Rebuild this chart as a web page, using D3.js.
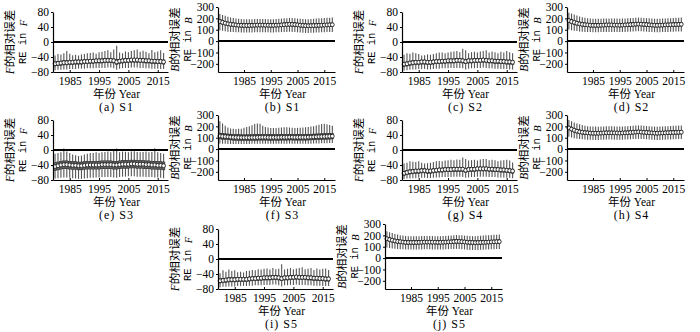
<!DOCTYPE html>
<html>
<head>
<meta charset="utf-8">
<title>RE boxplots</title>
<style>
  body { margin: 0; background: #fff; }
  text { font-family: "Liberation Serif", "Noto Sans CJK SC", serif; fill: #000; }
</style>
</head>
<body>
<script src="https://d3js.org/d3.v7.min.js"></script>
<script>
// categories and tick labels
var yearsF = d3.range(1980, 2018);   // F panels: 1980-2017
var yearsB = d3.range(1976, 2019);   // B panels: 1976-2018
var xTicks = [1985, 1995, 2005, 2015];
var fTicks = [80, 40, 0, -40, -80];
var bTicks = [300, 200, 100, 0, -100, -200];

// (a) S1, F
var a_med = [-58,-57,-56,-55,-55,-54,-54,-53,-53,-53,-52,-52,-51,-51,-50,-50,-50,-49,-49,-49,-50,-53,-51,-50,-49,-49,-48,-48,-48,-49,-49,-50,-50,-51,-51,-52,-52,-53];
var a_q1 = [-64,-63,-62,-61,-61,-60,-60,-59,-59,-59,-58,-58,-57,-57,-56,-56,-56,-55,-55,-55,-56,-60,-57,-56,-55,-55,-54,-54,-54,-55,-55,-56,-56,-57,-57,-58,-58,-59];
var a_q3 = [-53,-52,-51,-50,-50,-49,-49,-48,-48,-48,-47,-47,-46,-46,-45,-45,-45,-44,-44,-44,-45,-47,-46,-45,-44,-44,-43,-43,-43,-44,-44,-45,-45,-46,-46,-47,-47,-48];
var a_hi = [-36,-32,-33,-30,-24,-31,-35,-34,-36,-33,-32,-30,-29,-28,-31,-27,-26,-24,-22,-27,-20,-10,-28,-30,-25,-27,-24,-22,-20,-26,-23,-26,-30,-21,-27,-25,-22,-29];
var a_lo = [-75,-74,-74,-73,-73,-72,-72,-72,-71,-71,-71,-70,-70,-70,-69,-69,-69,-69,-68,-68,-70,-74,-71,-70,-69,-69,-68,-68,-68,-69,-69,-70,-70,-71,-71,-71,-72,-72];

// (b) S1, B
var b_med = [172,165,158,152,148,145,142,140,139,138,138,138,139,140,141,141,141,140,140,139,139,140,141,142,144,146,148,147,145,143,140,138,136,135,136,137,138,139,140,141,142,143,144];
var b_q1 = [156,149,142,136,132,129,126,124,123,122,122,122,123,124,125,125,125,124,124,123,123,124,125,126,128,130,132,131,129,127,124,122,120,119,120,121,122,123,124,125,126,127,128];
var b_q3 = [188,181,174,168,164,161,158,156,155,154,154,154,155,156,157,157,157,156,156,155,155,156,157,158,160,162,164,163,161,159,156,154,152,151,152,153,154,155,156,157,158,159,160];
var b_hi = [238,230,222,215,208,203,199,196,194,193,193,192,193,194,195,195,195,194,193,193,193,194,196,198,200,202,204,203,201,198,196,194,192,192,194,196,198,200,202,204,205,206,207];
var b_lo = [95,90,86,83,81,79,78,77,76,76,76,76,76,77,78,78,78,77,77,76,76,77,78,79,80,81,82,81,79,77,75,73,72,72,73,74,75,76,77,78,79,80,80];

// (c) S2, F
var c_med = [-59,-58,-56,-55,-54,-54,-53,-53,-54,-54,-53,-52,-52,-51,-51,-50,-50,-50,-49,-49,-50,-52,-50,-50,-49,-49,-49,-48,-49,-50,-50,-51,-51,-52,-52,-53,-53,-54];
var c_q1 = [-65,-64,-62,-61,-60,-60,-59,-59,-60,-60,-59,-58,-58,-57,-57,-56,-56,-56,-55,-55,-56,-58,-56,-56,-55,-55,-55,-54,-55,-56,-56,-57,-57,-58,-58,-59,-59,-60];
var c_q3 = [-54,-53,-51,-50,-49,-49,-48,-48,-49,-49,-48,-47,-47,-46,-46,-45,-45,-45,-44,-44,-45,-47,-45,-45,-44,-44,-44,-43,-44,-45,-45,-46,-46,-47,-47,-48,-48,-49];
var c_hi = [-34,-30,-31,-28,-30,-32,-36,-35,-33,-34,-32,-30,-28,-28,-30,-28,-26,-25,-24,-27,-18,-22,-30,-27,-26,-28,-25,-24,-22,-28,-25,-27,-30,-26,-28,-24,-27,-30];
var c_lo = [-76,-75,-74,-73,-73,-72,-72,-72,-73,-73,-72,-71,-71,-70,-70,-70,-69,-69,-69,-69,-70,-73,-71,-70,-70,-69,-69,-68,-69,-70,-70,-71,-71,-72,-72,-72,-73,-73];

// (d) S2, B
var d_med = [180,172,164,157,151,147,144,142,140,139,139,139,140,141,142,142,142,141,141,140,141,142,143,145,147,149,150,149,147,145,143,141,140,139,140,141,142,143,144,145,146,147,148];
var d_q1 = [164,156,148,141,135,131,128,126,124,123,123,123,124,125,126,126,126,125,125,124,125,126,127,129,131,133,134,133,131,129,127,125,124,123,124,125,126,127,128,129,130,131,132];
var d_q3 = [196,188,180,173,167,163,160,158,156,155,155,155,156,157,158,158,158,157,157,156,157,158,159,161,163,165,166,165,163,161,159,157,156,155,156,157,158,159,160,161,162,163,164];
var d_hi = [250,242,233,225,217,210,205,201,198,197,197,196,197,198,199,199,199,198,198,197,198,199,200,202,204,206,207,206,204,202,200,198,197,196,197,198,199,200,202,204,205,206,207];
var d_lo = [102,96,92,88,85,83,81,80,79,78,78,78,79,80,81,81,81,80,80,79,80,81,82,83,85,86,87,86,85,83,81,79,78,77,78,79,80,81,82,83,84,85,85];

// (e) S3, F
var e_med = [-44,-42,-40,-39,-39,-40,-41,-41,-42,-42,-41,-40,-40,-40,-40,-40,-39,-39,-39,-39,-40,-40,-39,-38,-38,-38,-37,-37,-38,-38,-38,-39,-39,-40,-40,-41,-41,-42];
var e_q1 = [-55,-53,-51,-50,-50,-51,-52,-52,-53,-53,-52,-51,-51,-51,-51,-51,-50,-50,-50,-50,-51,-51,-50,-49,-49,-49,-48,-48,-49,-49,-49,-50,-50,-51,-51,-52,-52,-53];
var e_q3 = [-34,-32,-30,-29,-29,-30,-31,-31,-32,-32,-31,-30,-30,-30,-30,-30,-29,-29,-29,-29,-30,-30,-29,-28,-28,-28,-27,-27,-28,-28,-28,-29,-29,-30,-30,-31,-31,-32];
var e_hi = [-10,-8,-6,4,-4,-8,-12,-14,-16,-15,-12,-10,-8,-8,-6,-8,-6,-5,-4,-6,-2,4,-6,-4,-5,-6,-4,-3,-5,-6,-5,-4,-6,-5,5,-6,-8,-10];
var e_lo = [-76,-75,-74,-73,-73,-74,-75,-76,-77,-77,-76,-75,-74,-74,-73,-73,-72,-72,-72,-72,-73,-74,-72,-71,-71,-70,-70,-70,-71,-71,-71,-72,-72,-72,-73,-73,-74,-75];

// (f) S3, B
var f_med = [115,112,110,108,106,104,103,102,101,101,101,101,102,102,103,104,104,104,103,103,103,103,103,104,104,104,105,105,104,104,104,104,104,105,106,107,108,109,110,111,112,113,114];
var f_q1 = [90,87,85,83,81,79,78,77,76,76,76,76,77,77,78,79,79,79,78,78,78,78,78,79,79,79,80,80,79,79,79,79,79,80,81,82,83,84,85,86,87,88,89];
var f_q3 = [140,137,135,133,131,129,128,127,126,126,126,126,127,127,128,129,129,129,128,128,128,128,128,129,129,129,130,130,129,129,129,129,129,130,131,132,133,134,135,136,137,138,139];
var f_hi = [245,225,205,190,182,178,176,178,180,188,195,200,210,220,225,222,205,195,190,185,185,186,188,190,192,192,190,188,186,186,188,190,192,195,198,202,208,215,220,222,218,212,205];
var f_lo = [50,48,46,45,44,44,44,44,44,44,44,45,46,46,47,47,47,46,46,46,46,46,46,47,47,47,48,48,47,47,47,47,47,48,48,49,50,50,51,52,52,53,54];

// (g) S4, F
var g_med = [-62,-60,-58,-57,-56,-56,-55,-55,-56,-56,-55,-54,-53,-53,-52,-52,-52,-51,-51,-51,-51,-54,-52,-51,-51,-50,-50,-50,-50,-51,-51,-52,-52,-53,-53,-54,-55,-56];
var g_q1 = [-68,-66,-64,-63,-62,-62,-61,-61,-62,-62,-61,-60,-59,-59,-58,-58,-58,-57,-57,-57,-57,-60,-58,-57,-57,-56,-56,-56,-56,-57,-57,-58,-58,-59,-59,-60,-61,-62];
var g_q3 = [-57,-55,-53,-52,-51,-51,-50,-50,-51,-51,-50,-49,-48,-48,-47,-47,-47,-46,-46,-46,-46,-49,-47,-46,-46,-45,-45,-45,-45,-46,-46,-47,-47,-48,-48,-49,-50,-51];
var g_hi = [-36,-34,-30,-31,-32,-30,-34,-36,-35,-34,-32,-30,-29,-30,-28,-27,-26,-27,-25,-26,-20,-24,-28,-27,-26,-28,-25,-24,-24,-27,-26,-27,-30,-28,-27,-26,-28,-33];
var g_lo = [-77,-76,-76,-75,-75,-74,-74,-74,-75,-75,-74,-73,-73,-72,-72,-72,-72,-71,-71,-71,-72,-74,-73,-72,-72,-71,-71,-71,-71,-72,-72,-72,-73,-73,-73,-74,-74,-75];

// (h) S4, B
var h_med = [186,176,166,158,152,148,145,143,141,140,140,140,141,142,143,143,143,142,142,141,142,143,144,146,148,150,151,150,148,146,144,142,141,140,141,142,143,144,145,146,147,148,149];
var h_q1 = [170,160,150,142,136,132,129,127,125,124,124,124,125,126,127,127,127,126,126,125,126,127,128,130,132,134,135,134,132,130,128,126,125,124,125,126,127,128,129,130,131,132,133];
var h_q3 = [202,192,182,174,168,164,161,159,157,156,156,156,157,158,159,159,159,158,158,157,158,159,160,162,164,166,167,166,164,162,160,158,157,156,157,158,159,160,161,162,163,164,165];
var h_hi = [255,245,235,226,218,211,206,202,199,198,198,197,198,199,200,200,200,199,199,198,199,200,201,203,205,207,208,207,205,203,201,199,198,197,198,199,200,201,203,205,206,207,208];
var h_lo = [108,101,96,92,89,86,84,83,82,81,81,81,82,83,84,84,84,83,83,82,83,84,85,86,88,89,90,89,88,86,84,82,81,80,81,82,83,84,85,86,87,88,88];

// (i) S5, F
var i_med = [-58,-57,-56,-55,-55,-55,-54,-54,-54,-54,-53,-52,-52,-51,-51,-50,-50,-50,-49,-49,-50,-52,-50,-50,-49,-49,-48,-49,-49,-49,-50,-50,-51,-51,-52,-52,-53,-53];
var i_q1 = [-64,-63,-62,-61,-61,-61,-60,-60,-60,-60,-59,-58,-58,-57,-57,-56,-56,-56,-55,-55,-56,-58,-56,-56,-55,-55,-54,-55,-55,-55,-56,-56,-57,-57,-58,-58,-59,-59];
var i_q3 = [-53,-52,-51,-50,-50,-50,-49,-49,-49,-49,-48,-47,-47,-46,-46,-45,-45,-45,-44,-44,-45,-47,-45,-45,-44,-44,-43,-44,-44,-44,-45,-45,-46,-46,-47,-47,-48,-48];
var i_hi = [-38,-30,-34,-28,-32,-30,-35,-34,-36,-32,-31,-29,-30,-27,-28,-26,-25,-28,-24,-27,-26,-14,-28,-26,-24,-27,-25,-24,-22,-27,-26,-24,-29,-25,-28,-26,-25,-29];
var i_lo = [-75,-74,-74,-73,-73,-73,-72,-72,-72,-72,-71,-71,-70,-70,-70,-69,-69,-69,-68,-68,-70,-73,-70,-70,-69,-69,-68,-69,-69,-69,-70,-70,-71,-71,-71,-72,-72,-72];

// (j) S5, B
var j_med = [170,163,157,151,147,144,141,139,138,138,138,138,139,140,141,141,141,140,140,139,139,140,141,142,143,145,147,146,144,142,140,138,137,136,137,138,139,140,141,142,143,144,145];
var j_q1 = [154,147,141,135,131,128,125,123,122,122,122,122,123,124,125,125,125,124,124,123,123,124,125,126,127,129,131,130,128,126,124,122,121,120,121,122,123,124,125,126,127,128,129];
var j_q3 = [186,179,173,167,163,160,157,155,154,154,154,154,155,156,157,157,157,156,156,155,155,156,157,158,159,161,163,162,160,158,156,154,153,152,153,154,155,156,157,158,159,160,161];
var j_hi = [236,228,220,213,207,202,198,195,193,192,192,192,193,194,195,195,195,194,193,193,193,194,195,197,199,201,203,202,200,198,196,194,193,193,195,197,199,201,202,204,205,206,207];
var j_lo = [94,89,85,82,80,78,77,76,75,75,75,75,75,76,77,77,77,76,76,75,75,76,77,78,79,80,81,80,78,76,74,72,71,71,72,73,74,75,76,77,78,79,79];

var panels = [
  {cap: '(a)', s: 'S1', kind: 'F', x: 53,  row: 0, med: a_med, q1: a_q1, q3: a_q3, hi: a_hi, lo: a_lo},
  {cap: '(b)', s: 'S1', kind: 'B', x: 218, row: 0, med: b_med, q1: b_q1, q3: b_q3, hi: b_hi, lo: b_lo},
  {cap: '(c)', s: 'S2', kind: 'F', x: 402, row: 0, med: c_med, q1: c_q1, q3: c_q3, hi: c_hi, lo: c_lo},
  {cap: '(d)', s: 'S2', kind: 'B', x: 567, row: 0, med: d_med, q1: d_q1, q3: d_q3, hi: d_hi, lo: d_lo},
  {cap: '(e)', s: 'S3', kind: 'F', x: 53,  row: 1, med: e_med, q1: e_q1, q3: e_q3, hi: e_hi, lo: e_lo},
  {cap: '(f)', s: 'S3', kind: 'B', x: 218, row: 1, med: f_med, q1: f_q1, q3: f_q3, hi: f_hi, lo: f_lo},
  {cap: '(g)', s: 'S4', kind: 'F', x: 402, row: 1, med: g_med, q1: g_q1, q3: g_q3, hi: g_hi, lo: g_lo},
  {cap: '(h)', s: 'S4', kind: 'B', x: 567, row: 1, med: h_med, q1: h_q1, q3: h_q3, hi: h_hi, lo: h_lo},
  {cap: '(i)', s: 'S5', kind: 'F', x: 218, row: 2, med: i_med, q1: i_q1, q3: i_q3, hi: i_hi, lo: i_lo},
  {cap: '(j)', s: 'S5', kind: 'B', x: 385, row: 2, med: j_med, q1: j_q1, q3: j_q3, hi: j_hi, lo: j_lo}
];
var rowOff = [0, 108, 217];
var serif = '"Liberation Serif", "Noto Sans CJK SC", serif';

var svg = d3.select('body').append('svg').attr('width', 700).attr('height', 332);

function minus(d) { return d < 0 ? '\u2212' + Math.abs(d) : d; }

panels.forEach(function(p) {
  var isF = p.kind === 'F';
  var w = isF ? 115 : 117;
  var years = isF ? yearsF : yearsB;
  var g = svg.append('g').attr('transform', 'translate(' + p.x + ',' + rowOff[p.row] + ')');

  var xScale = d3.scaleLinear()
    .domain(isF ? [1979.3, 2018.5] : [1975.3, 2019])
    .range([0, w]);
  var yScale = d3.scaleLinear()
    .domain(isF ? [-80, 80] : [-272, 300])
    .range([72, isF ? 12 : 7]);

  var rows = years.map(function(y, i) {
    return {year: y, med: p.med[i], q1: p.q1[i], q3: p.q3[i], hi: p.hi[i], lo: p.lo[i]};
  });

  // whiskers
  g.selectAll('line.wh').data(rows).enter().append('line')
    .attr('class', 'wh')
    .attr('x1', function(d) { return xScale(d.year); })
    .attr('x2', function(d) { return xScale(d.year); })
    .attr('y1', function(d) { return yScale(d.hi); })
    .attr('y2', function(d) { return yScale(d.lo); })
    .attr('stroke', '#555').attr('stroke-width', 1.1);

  // boxes
  g.selectAll('rect.box').data(rows).enter().append('rect')
    .attr('class', 'box')
    .attr('x', function(d) { return xScale(d.year) - 1.3; })
    .attr('width', 2.6)
    .attr('y', function(d) { return yScale(d.q3); })
    .attr('height', function(d) { return yScale(d.q1) - yScale(d.q3); })
    .attr('fill', '#666').attr('stroke', '#222').attr('stroke-width', 0.5);

  // zero line
  g.append('line')
    .attr('x1', 0).attr('x2', w)
    .attr('y1', yScale(0)).attr('y2', yScale(0))
    .attr('stroke', '#000').attr('stroke-width', 2);

  // medians
  g.selectAll('circle').data(rows).enter().append('circle')
    .attr('cx', function(d) { return xScale(d.year); })
    .attr('cy', function(d) { return yScale(d.med); })
    .attr('r', 1.9)
    .attr('fill', '#fff').attr('stroke', '#111').attr('stroke-width', 0.8);

  // axes
  var ya = g.append('g').call(d3.axisLeft(yScale)
    .tickValues(isF ? fTicks : bTicks).tickSizeInner(2).tickSizeOuter(0)
    .tickPadding(2).tickFormat(minus));
  var xa = g.append('g').attr('transform', 'translate(0,72)').call(d3.axisBottom(xScale)
    .tickValues(xTicks).tickSizeInner(-2).tickSizeOuter(0)
    .tickPadding(5).tickFormat(d3.format('d')));
  [ya, xa].forEach(function(a) {
    a.attr('font-family', serif).attr('font-size', 11.5);
    a.selectAll('text').style('font-family', serif).attr('fill', '#000');
    a.select('.domain').attr('stroke', '#000').attr('stroke-width', 1.2);
    a.selectAll('.tick line').attr('stroke', '#000');
  });

  // y labels
  var ymid = (yScale.range()[0] + yScale.range()[1]) / 2;
  var l1 = g.append('text')
    .attr('transform', 'translate(-43,' + ymid + ') rotate(-90)')
    .attr('text-anchor', 'middle').attr('dominant-baseline', 'central')
    .attr('font-size', 11.5);
  l1.append('tspan').attr('font-style', 'italic').text(p.kind);
  l1.append('tspan').text('的相对误差');
  var l2 = g.append('text')
    .attr('transform', 'translate(-30,' + ymid + ') rotate(-90)')
    .attr('text-anchor', 'middle').attr('dominant-baseline', 'central')
    .attr('font-size', 10.5).style('font-family', '"Liberation Mono", monospace');
  l2.append('tspan').text('RE in ');
  l2.append('tspan').attr('font-style', 'italic').style('font-family', '"Liberation Serif", serif').text(p.kind);

  // x label and caption
  g.append('text').attr('x', w / 2 + 6).attr('y', 98)
    .attr('text-anchor', 'middle').attr('font-size', 11.5).text('年份 Year');
  g.append('text').attr('x', w / 2 + 6).attr('y', 111)
    .attr('text-anchor', 'middle').attr('font-size', 12)
    .attr('letter-spacing', 1).text(p.cap + ' ' + p.s);
});
</script>
</body>
</html>
